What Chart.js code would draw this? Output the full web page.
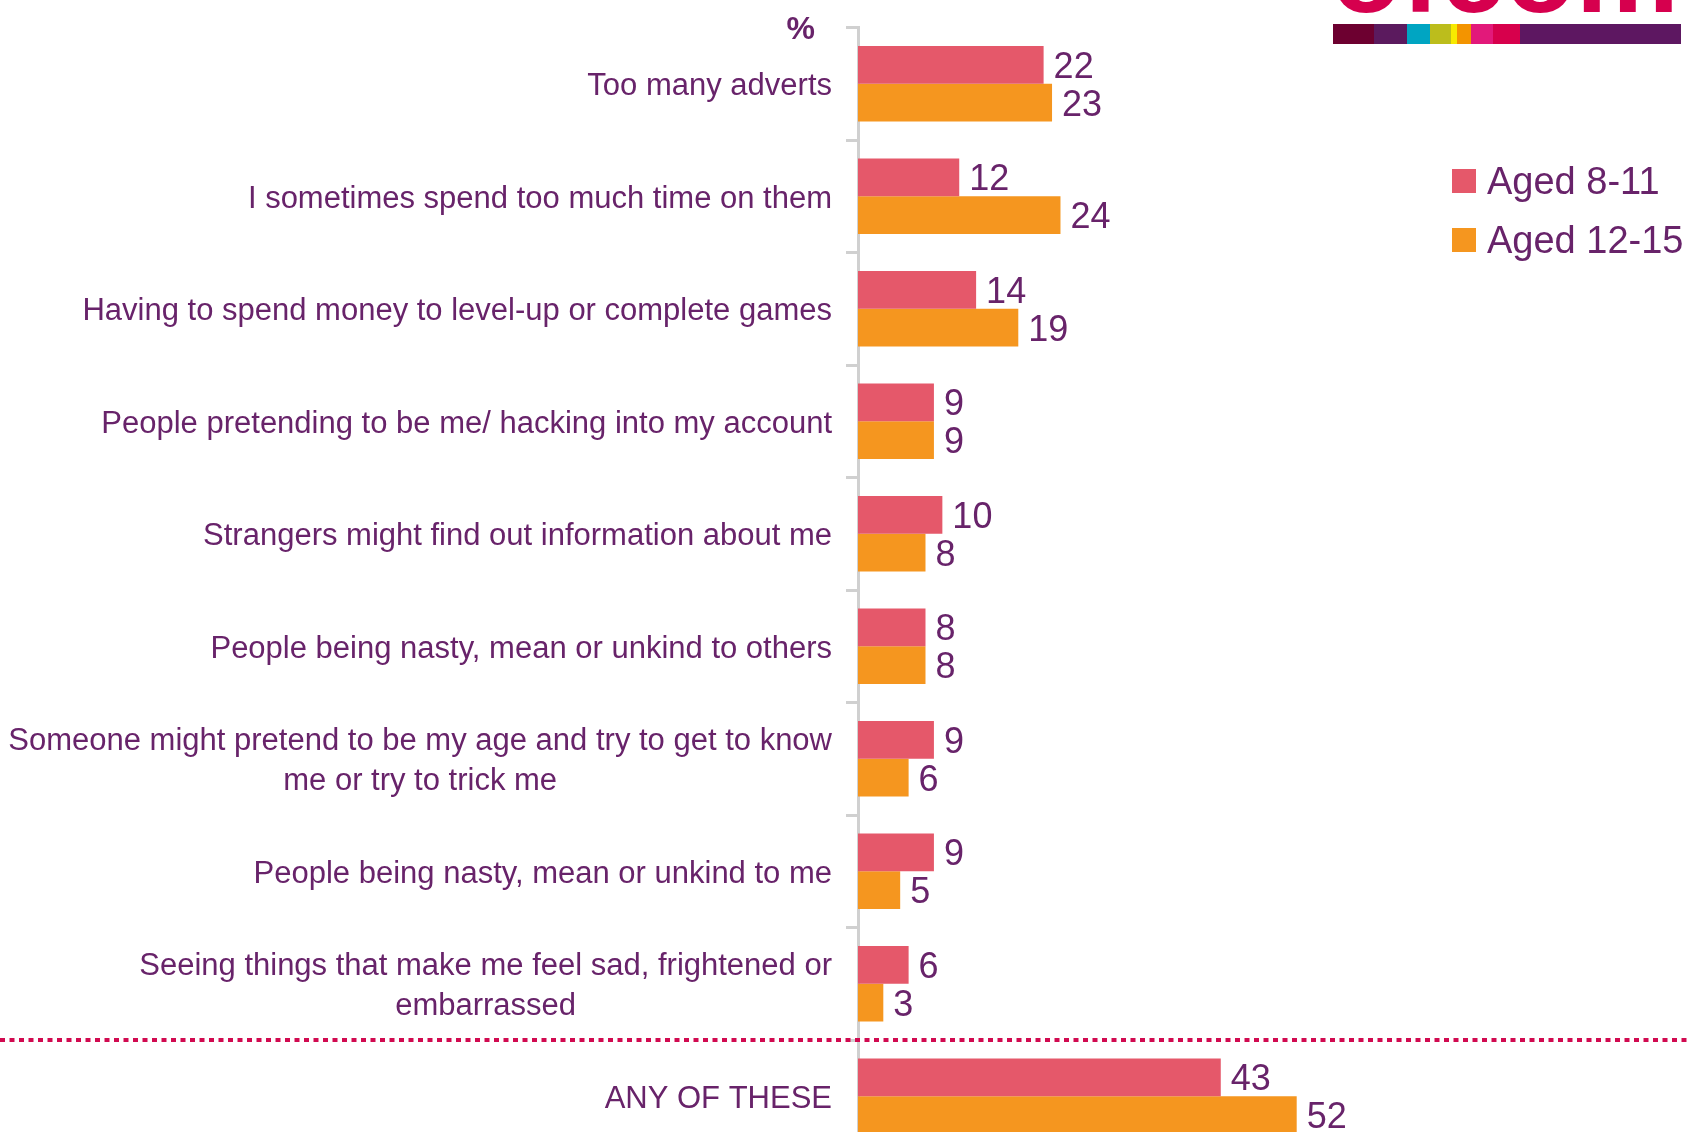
<!DOCTYPE html>
<html>
<head>
<meta charset="utf-8">
<script src="https://cdn.jsdelivr.net/npm/chart.js@4.4.1/dist/chart.umd.min.js"></script>
<style>
  html, body { margin: 0; padding: 0; background: #fff; overflow: hidden; }
  body { width: 1689px; height: 1132px; position: relative; font-family: "Liberation Sans", Arial, sans-serif; }
  #wrap { position: absolute; left: 0; top: 0; width: 1689px; height: 1160px; }
  .logo-text { position: absolute; left: 1331px; top: -86px; font-size: 116px; font-weight: bold; line-height: 1; color: #d6004e; }
  .stripe { position: absolute; left: 1333px; top: 24px; height: 20px; display: flex; }
  .stripe div { height: 20px; }
  #legend { position: absolute; left: 1452px; top: 163px; }
  .leg-item { display: flex; align-items: center; height: 36px; margin-bottom: 23px; color: #68236a; font-size: 38px; }
  .leg-box { width: 24px; height: 24px; margin-right: 11px; }
</style>
</head>
<body>
<div class="logo-text">ofcom</div>
<div class="stripe" id="stripe"></div>
<div id="wrap"><canvas id="barChart"></canvas></div>
<div id="legend"></div>

<script>
const categories = [
    'Too many adverts',
    'I sometimes spend too much time on them',
    'Having to spend money to level-up or complete games',
    'People pretending to be me/ hacking into my account',
    'Strangers might find out information about me',
    'People being nasty, mean or unkind to others',
    ['Someone might pretend to be my age and try to get to know', 'me or try to trick me'],
    'People being nasty, mean or unkind to me',
    ['Seeing things that make me feel sad, frightened or', 'embarrassed'],
    'ANY OF THESE'
];
const seriesLabels = ['Aged 8-11', 'Aged 12-15'];
const aged8to11 = [22, 12, 14, 9, 10, 8, 9, 9, 6, 43];
const aged12to15 = [23, 24, 19, 9, 8, 8, 6, 5, 3, 52];
const seriesColors = ['#e5586a', '#f5961f'];

const TEXT = '#68236a';
const FONT = '"Liberation Sans", Arial, sans-serif';

// logo colour stripe
const stripeParts = [
    ['#6d0030', 41], ['#5b1a5e', 33], ['#00a5c2', 23], ['#bcbd1c', 21], ['#f7ea00', 6],
    ['#f39400', 14], ['#e2197a', 22], ['#d7004c', 27], ['#5d1761', 161]
];
document.getElementById('stripe').innerHTML = stripeParts
    .map(([c, w]) => `<div style="background:${c};width:${w}px"></div>`).join('');

document.getElementById('legend').innerHTML = seriesLabels
    .map((l, i) => `<div class="leg-item"><div class="leg-box" style="background:${seriesColors[i]}"></div>${l}</div>`)
    .join('');

const sideLabels = {
    id: 'sideLabels',
    afterDraw(chart) {
        const { ctx } = chart;
        const yScale = chart.scales.y;
        ctx.save();

        // category labels, multi-line ones centred on their widest line
        ctx.fillStyle = TEXT;
        ctx.font = `31px ${FONT}`;
        ctx.textBaseline = 'middle';
        ctx.textAlign = 'center';
        categories.forEach((lab, i) => {
            const lines = Array.isArray(lab) ? lab : [lab];
            const widest = Math.max(...lines.map(l => ctx.measureText(l).width));
            const cx = 832 - widest / 2;
            const cy = yScale.getPixelForValue(i) + 3;
            lines.forEach((l, j) => ctx.fillText(l, cx, cy + (j - (lines.length - 1) / 2) * 40));
        });

        // value labels
        ctx.font = `36px ${FONT}`;
        ctx.textAlign = 'left';
        chart.data.datasets.forEach((ds, di) => {
            chart.getDatasetMeta(di).data.forEach((bar, i) => {
                ctx.fillText(ds.data[i], bar.x + 10, bar.y + 3);
            });
        });

        // % unit
        ctx.font = `bold 32px ${FONT}`;
        ctx.textAlign = 'right';
        ctx.fillText('%', 815, 30);

        // dotted divider before the total row
        const n = categories.length;
        const yDiv = (yScale.getPixelForValue(n - 2) + yScale.getPixelForValue(n - 1)) / 2;
        ctx.strokeStyle = '#d10a50';
        ctx.lineWidth = 4;
        ctx.setLineDash([5, 4.5]);
        ctx.beginPath();
        ctx.moveTo(0, yDiv);
        ctx.lineTo(chart.width, yDiv);
        ctx.stroke();
        ctx.restore();
    }
};

window.setupCharts = () => {
    const ctx = document.getElementById('barChart').getContext('2d');
    new Chart(ctx, {
        type: 'bar',
        data: {
            labels: categories,
            datasets: [
                { label: seriesLabels[0], data: aged8to11, backgroundColor: seriesColors[0] },
                { label: seriesLabels[1], data: aged12to15, backgroundColor: seriesColors[1] }
            ]
        },
        options: {
            indexAxis: 'y',
            responsive: true,
            maintainAspectRatio: false,
            animation: false,
            categoryPercentage: 0.67,
            barPercentage: 1.0,
            layout: { padding: { top: 27.5, bottom: 7.5, left: 0, right: 0 } },
            plugins: { legend: { display: false }, tooltip: { enabled: false } },
            scales: {
                x: { display: false, min: 0, max: 98.5 },
                y: {
                    ticks: { display: false },
                    grid: { drawOnChartArea: false, color: '#d0d0d0', lineWidth: 3, tickLength: 12 },
                    border: { display: true, color: '#d0d0d0', width: 3 },
                    afterFit: (scale) => { scale.width = 858; }
                }
            }
        },
        plugins: [sideLabels]
    });
};

window.setupCharts();
</script>
</body>
</html>
